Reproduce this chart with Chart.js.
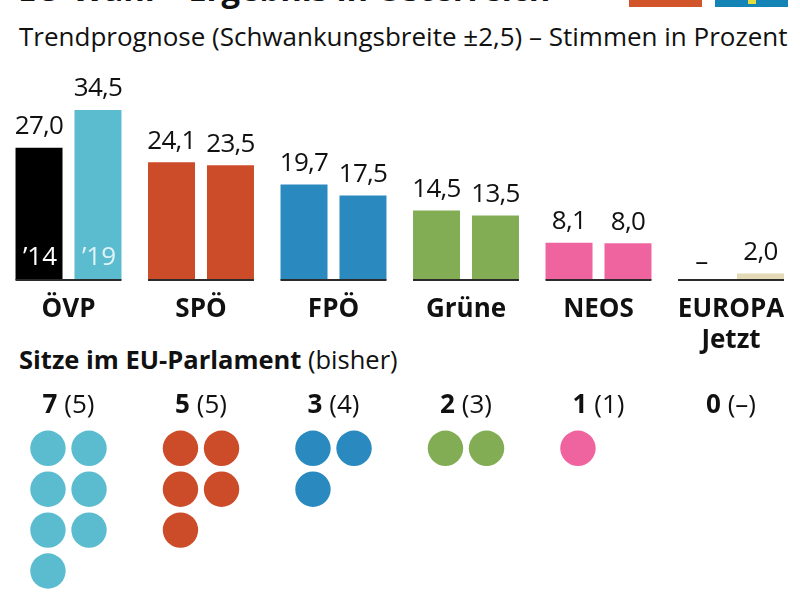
<!DOCTYPE html>
<html lang="de">
<head>
<meta charset="utf-8">
<title>EU-Wahl</title>
<script src="https://cdn.jsdelivr.net/npm/chart.js@4"></script>
<style>
  html, body { margin: 0; padding: 0; background: #fff; overflow: hidden; }
  body { width: 800px; height: 600px; position: relative; font-family: "Open Sans", sans-serif; color: #111; }
  canvas { position: absolute; left: 0; top: 0; }
  .txt { position: absolute; white-space: nowrap; line-height: 1; }
  #title { left: 18px; top: -27px; font-size: 32.8px; font-weight: 700; }
  #subtitle { left: 19px; top: 23px; font-size: 26px; }
  #seatsTitle { left: 19px; top: 347px; font-size: 25.5px; }
  #seatsTitle b { font-weight: 700; }
  .flag { position: absolute; top: 0; height: 7px; width: 73px; }
  #flagA { left: 629px; background: #d2542b; }
  #flagB { left: 715px; background: #1384b5; }
  #flagB i { position: absolute; left: 33px; top: 0; width: 8px; height: 4px; background: #e3dc3c; }
</style>
</head>
<body>
<div class="txt" id="title">EU-Wahl – Ergebnis in Österreich</div>
<div class="flag" id="flagA"></div>
<div class="flag" id="flagB"><i></i></div>
<div class="txt" id="subtitle">Trendprognose (Schwankungsbreite ±2,5) – Stimmen in Prozent</div>
<div class="txt" id="seatsTitle"><b>Sitze im EU-Parlament</b> (bisher)</div>
<canvas id="barChart" width="800" height="360"></canvas>
<canvas id="seatChart" width="800" height="600"></canvas>
<script>
const parties = ["ÖVP", "SPÖ", "FPÖ", "Grüne", "NEOS", ["EUROPA", "Jetzt"]];
const votes2014 = [27.0, 24.1, 19.7, 14.5, 8.1, null];
const votes2019 = [34.5, 23.5, 17.5, 13.5, 8.0, 2.0];
const yearLabels = ["’14", "’19"];
const seatsNow = [7, 5, 3, 2, 1, 0];
const seatsBefore = [5, 5, 4, 3, 1, null];

const colors2014 = ["#000000", "#cc4b29", "#2a8abf", "#82ad55", "#ef649f", "#e3d9b5"];
const colors2019 = ["#5bbccf", "#cc4b29", "#2a8abf", "#82ad55", "#ef649f", "#e3d9b5"];

const fontName = "'Open Sans', sans-serif";
const seatColumnOffset = 0.155;

function formatValue(v) {
  return v === null ? "–" : v.toFixed(1).replace(".", ",");
}

// value labels, year labels and the short baseline under each pair of bars
const barLabels = {
  id: "barLabels",
  afterDatasetsDraw(chart) {
    const ctx = chart.ctx;
    const yScale = chart.scales.y;
    const base = yScale.bottom;
    ctx.save();
    ctx.textAlign = "center";
    ctx.textBaseline = "alphabetic";
    parties.forEach((p, i) => {
      const a = chart.getDatasetMeta(0).data[i];
      const b = chart.getDatasetMeta(1).data[i];
      ctx.fillStyle = "#2b2b2b";
      ctx.fillRect(a.x - b.width / 2, base - 1, b.x - a.x + b.width, 2);
    });
    ctx.font = "26px " + fontName;
    ctx.letterSpacing = "-0.7px";
    ctx.fillStyle = "#111";
    chart.data.datasets.forEach((ds, d) => {
      ds.data.forEach((v, i) => {
        const bar = chart.getDatasetMeta(d).data[i];
        const top = yScale.getPixelForValue(v === null ? 0 : v);
        ctx.fillText(formatValue(v), bar.x, top - 13.5);
      });
    });
    ctx.letterSpacing = "0px";
    yearLabels.forEach((label, d) => {
      const bar = chart.getDatasetMeta(d).data[0];
      ctx.fillStyle = d === 0 ? "#ffffff" : "#dff3f7";
      ctx.fillText(label, bar.x + 1, base - 15);
    });
    ctx.restore();
  }
};

// "7 (5)" heading over each seat block
const seatHeads = {
  id: "seatHeads",
  afterDatasetsDraw(chart) {
    const ctx = chart.ctx;
    const xScale = chart.scales.x;
    const headY = chart.scales.y.getPixelForValue(0) - 35;
    ctx.save();
    ctx.textAlign = "left";
    ctx.textBaseline = "alphabetic";
    ctx.fillStyle = "#111";
    seatsNow.forEach((n, i) => {
      const boldText = String(n);
      const restText = " (" + (seatsBefore[i] === null ? "–" : seatsBefore[i]) + ")";
      ctx.font = "700 26px " + fontName;
      const w1 = ctx.measureText(boldText).width;
      ctx.font = "26px " + fontName;
      const w2 = ctx.measureText(restText).width;
      const left = xScale.getPixelForValue(i) - (w1 + w2) / 2;
      ctx.font = "700 26px " + fontName;
      ctx.fillText(boldText, left, headY);
      ctx.font = "26px " + fontName;
      ctx.fillText(restText, left + w1, headY);
    });
    ctx.restore();
  }
};

new Chart(document.getElementById("barChart"), {
  type: "bar",
  data: {
    labels: parties,
    datasets: [
      { label: "2014", data: votes2014, backgroundColor: colors2014 },
      { label: "2019", data: votes2019, backgroundColor: colors2019 }
    ]
  },
  options: {
    responsive: false,
    animation: false,
    barPercentage: 0.797,
    categoryPercentage: 0.89,
    layout: { padding: { left: 2.25, right: 2.75, top: 83, bottom: 0 } },
    plugins: { legend: { display: false }, tooltip: { enabled: false } },
    scales: {
      x: {
        grid: { display: false },
        border: { display: false },
        afterFit(scale) { scale.height = 80; },
        ticks: {
          color: "#111",
          padding: 6,
          maxRotation: 0,
          autoSkip: false,
          font: { family: fontName, size: 26, weight: "700", lineHeight: 1.2 }
        }
      },
      // the original's bars stand on a line a little above zero
      y: { display: false, min: 0.7, max: 39.86 }
    }
  },
  plugins: [barLabels]
});

// one point per seat, filled in two columns from the seat counts
const seatPoints = [];
const seatColors = [];
seatsNow.forEach((n, party) => {
  for (let k = 0; k < n; k++) {
    seatPoints.push({
      x: party + (k % 2 === 0 ? -seatColumnOffset : seatColumnOffset),
      y: Math.floor(k / 2)
    });
    seatColors.push(colors2019[party]);
  }
});

new Chart(document.getElementById("seatChart"), {
  type: "scatter",
  data: {
    datasets: [{
      data: seatPoints,
      backgroundColor: seatColors,
      borderWidth: 0,
      pointRadius: 17.7,
      clip: false
    }]
  },
  options: {
    responsive: false,
    animation: false,
    layout: { autoPadding: false, padding: { left: 2.25, right: 2.75, top: 448.3, bottom: 29 } },
    plugins: { legend: { display: false }, tooltip: { enabled: false } },
    scales: {
      x: { display: false, type: "linear", min: -0.5, max: 5.5 },
      y: { display: false, type: "linear", reverse: true, min: 0, max: 3 }
    }
  },
  plugins: [seatHeads]
});
</script>
</body>
</html>
